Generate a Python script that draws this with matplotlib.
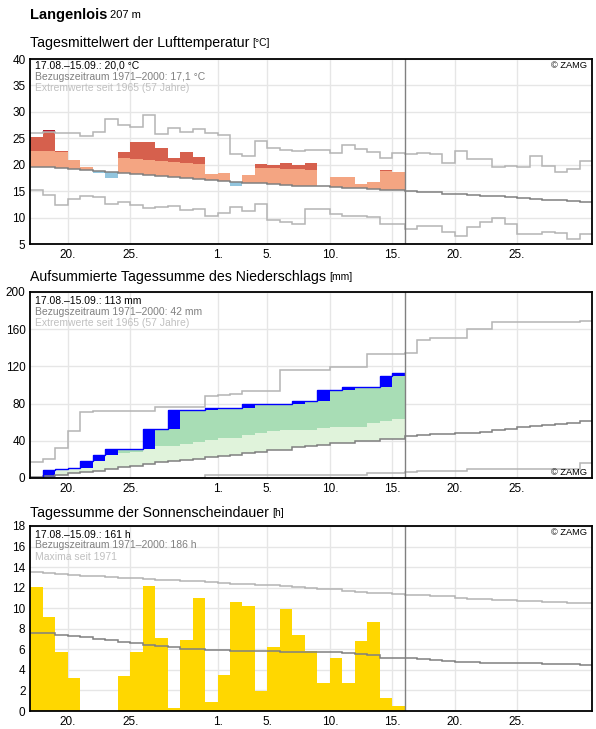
import matplotlib
matplotlib.use("Agg")
import matplotlib.pyplot as plt
import numpy as np

plt.rcParams['font.family'] = ['Liberation Sans', 'DejaVu Sans']

# x axis: one step per day, 17.08. .. 30.09.
n_days = 45
n_obs = 30   # 17.08.-15.09.
tick_pos = [3, 8, 15, 19, 24, 29, 34, 39]
tick_lbl = ['20.', '25.', '1.', '5.', '10.', '15.', '20.', '25.']

# Tagesmittel Lufttemperatur (degC)
t_obs = [25.3, 26.6, 22.65, 20.95, 19.6, 18.55, 17.5, 22.35, 24.25, 24.25,
         23.2, 21.35, 22.35, 21.5, 18.3, 18.55, 16.1, 18.1, 20.25, 20.0,
         20.4, 20.0, 20.4, 15.95, 17.7, 17.7, 16.4, 16.8, 19.1, 18.75]
t_schwelle = [22.65, 22.65, 22.5, 22.2, 22.0, 21.8, 21.7, 21.3, 21.15, 20.95,
              20.75, 20.6, 20.4, 20.2, 20.1, 20.0, 19.8, 19.6, 19.4, 19.4,
              19.25, 19.25, 19.05, 19.0, 18.9, 18.8, 18.8, 18.8, 18.85, 18.6]
t_norm = [19.6, 19.6, 19.4, 19.2, 19.0, 18.8, 18.7, 18.4, 18.3, 18.0,
          17.85, 17.7, 17.5, 17.4, 17.2, 17.0, 16.8, 16.6, 16.5, 16.4,
          16.2, 16.1, 15.95, 15.95, 15.8, 15.6, 15.6, 15.4, 15.2, 15.2,
          15.0, 14.8, 14.8, 14.55, 14.5, 14.4, 14.2, 14.15, 13.9, 13.75,
          13.6, 13.4, 13.3, 13.1, 12.9]
t_max = [25.95, 26.3, 25.95, 25.95, 25.4, 26.2, 28.7, 27.5, 27.15, 29.5,
         25.8, 26.9, 26.2, 26.7, 26.0, 25.6, 22.1, 21.65, 24.5, 23.2,
         22.8, 22.6, 22.8, 22.8, 22.2, 23.7, 23.0, 22.5, 21.3, 22.2,
         22.1, 22.3, 22.1, 20.3, 22.7, 21.1, 21.1, 19.6, 19.8, 19.6,
         21.6, 19.8, 18.7, 19.3, 20.8]
t_min = [15.2, 14.4, 12.5, 13.5, 14.2, 14.0, 12.7, 12.9, 12.5, 11.8,
         12.0, 12.15, 11.45, 11.65, 10.4, 11.0, 12.0, 11.2, 12.7, 9.55,
         9.3, 8.9, 11.6, 11.6, 10.8, 10.4, 10.4, 10.25, 8.9, 8.9,
         7.8, 8.4, 8.4, 7.3, 6.6, 8.25, 9.2, 9.9, 8.9, 6.9,
         6.9, 7.25, 7.05, 6.0, 6.9]

# Aufsummierter Niederschlag (mm)
rr_obs = [0.0, 8.7, 10.1, 10.8, 18.4, 24.9, 31.4, 31.4, 31.4, 53.0,
          53.0, 73.5, 73.5, 73.5, 75.8, 75.8, 75.8, 80.0, 80.0, 80.0,
          80.0, 82.6, 83.3, 94.2, 94.2, 97.5, 97.5, 97.5, 109.4, 113.0]
rr_schwelle = [10.0, 14.0, 17.0, 19.5, 21.5, 23.5, 25.2, 26.4, 28.2, 32.0,
               33.9, 34.6, 36.4, 38.5, 40.7, 43.3, 43.3, 46.5, 48.3, 50.9,
               51.2, 52.0, 52.0, 53.7, 54.4, 55.2, 55.2, 58.8, 61.0, 63.9]
rr_norm = [1.4, 2.5, 3.6, 5.1, 6.9, 7.6, 9.4, 11.6, 13.0, 15.2,
           17.0, 18.1, 19.2, 20.2, 22.4, 23.7, 24.5, 26.7, 28.2, 29.8,
           30.3, 33.1, 34.6, 35.7, 37.2, 37.9, 39.3, 40.1, 41.9, 41.9,
           45.1, 45.8, 46.9, 47.3, 48.0, 48.7, 49.8, 51.3, 53.1, 54.5,
           55.6, 57.0, 58.5, 59.6, 61.4]
rr_max = [17.0, 20.2, 32.1, 50.2, 70.8, 71.8, 72.2, 72.5, 72.5, 72.5,
          76.8, 76.8, 76.8, 76.8, 88.1, 89.0, 90.5, 93.6, 93.6, 93.6,
          115.9, 115.9, 115.9, 115.9, 119.1, 119.1, 119.1, 133.5, 133.5, 133.5,
          133.9, 148.0, 150.2, 150.2, 150.2, 159.9, 159.9, 168.2, 168.2, 168.2,
          168.2, 168.2, 168.2, 168.2, 169.3]
rr_min = [0.0, 0.0, 0.0, 0.0, 0.0, 0.0, 0.0, 0.0, 0.0, 0.0,
          0.4, 0.4, 0.4, 0.4, 3.4, 3.4, 3.4, 3.4, 3.4, 3.4,
          3.4, 3.4, 3.4, 3.4, 3.4, 3.4, 3.4, 5.8, 5.8, 5.8,
          6.9, 7.9, 7.9, 7.9, 7.9, 10.1, 10.1, 10.1, 10.1, 10.1,
          10.1, 10.1, 10.1, 10.1, 15.9]

# Sonnenscheindauer (h)
sd_obs = [12.1, 9.1, 5.76, 3.2, 0.0, 0.0, 0.0, 3.4, 5.76, 12.2,
          7.1, 0.3, 6.9, 11.0, 0.9, 3.5, 10.6, 10.25, 1.95, 6.25,
          9.96, 7.4, 5.86, 2.73, 5.18, 2.73, 6.84, 8.7, 1.27, 0.49]
sd_norm = [7.58, 7.58, 7.42, 7.32, 7.16, 7.0, 6.93, 6.7, 6.6, 6.41,
           6.35, 6.25, 6.02, 6.02, 5.92, 5.92, 5.83, 5.83, 5.83, 5.8,
           5.76, 5.76, 5.73, 5.7, 5.7, 5.63, 5.53, 5.44, 5.2, 5.14,
           5.14, 5.05, 4.98, 4.85, 4.75, 4.75, 4.65, 4.65, 4.65, 4.65,
           4.65, 4.56, 4.56, 4.56, 4.46]
sd_max = [13.48, 13.41, 13.3, 13.25, 13.18, 13.09, 12.99, 12.95, 12.9, 12.83,
          12.76, 12.76, 12.66, 12.66, 12.57, 12.47, 12.4, 12.34, 12.3, 12.27,
          12.17, 12.1, 12.0, 11.9, 11.85, 11.72, 11.62, 11.52, 11.46, 11.36,
          11.3, 11.3, 11.23, 11.17, 11.0, 10.94, 10.9, 10.84, 10.84, 10.74,
          10.74, 10.61, 10.61, 10.51, 10.51]

GRID = '#e6e6e6'
NORM = '#808080'
EXTR = '#b4b4b4'

edges = np.arange(n_days + 1)
x = np.arange(n_obs)


def setup_axes(ax, ylim, yticks):
    ax.set_xlim(0, n_days)
    ax.set_ylim(*ylim)
    ax.set_xticks(tick_pos)
    ax.set_xticklabels(tick_lbl)
    ax.set_yticks(yticks)
    ax.tick_params(length=0, labelsize=8.5, pad=3.5, colors='black')
    ax.grid(True, color=GRID, lw=1.0)
    ax.set_axisbelow(True)
    for s in ax.spines.values():
        s.set_linewidth(1.3)
        s.set_color('black')
        s.set_zorder(10)
    ax.axvline(n_obs, color=NORM, lw=1.0, zorder=6)


def step(ax, values, color, z, e=edges, lw=1.1):
    # step line only, no closing edges down to a baseline
    ax.stairs(values, e, baseline=None, color=color, lw=lw, zorder=z)


def info_text(ax, lines, top_px):
    cols = ['black', '#808080', '#c0c0c0']
    for i, (txt, c) in enumerate(zip(lines, cols)):
        ax.annotate(txt, xy=(0, 1), xycoords='axes fraction',
                    xytext=(3.2, -(top_px + 11 * i) * 0.72), textcoords='offset points',
                    ha='left', va='center', fontsize=7.5, color=c, zorder=11)


def zamg(ax, top=True):
    if top:
        ax.annotate('© ZAMG', xy=(1, 1), xycoords='axes fraction', xytext=(-3.8, -4.7),
                    textcoords='offset points', ha='right', va='center', fontsize=6.7, zorder=11)
    else:
        ax.annotate('© ZAMG', xy=(1, 0), xycoords='axes fraction', xytext=(-3.8, 3.8),
                    textcoords='offset points', ha='right', va='center', fontsize=6.7, zorder=11)


def title(fig, y_px, txt, unit, size=10.2):
    t = fig.text(30 / 596, 1 - y_px / 729, txt, fontsize=size, ha='left', va='center')
    fig.canvas.draw()
    bb = t.get_window_extent()
    fig.text((bb.x1 + 3) / 596, 1 - y_px / 729, unit, fontsize=size * 0.72,
             ha='left', va='center')


fig = plt.figure(figsize=(5.96, 7.29), dpi=100)
left = 30.3 / 596
width = (592 - 30.3) / 596
ax1 = fig.add_axes([left, 1 - 244.3 / 729, width, 185.3 / 729])
ax2 = fig.add_axes([left, 1 - 478 / 729, width, 186 / 729])
ax3 = fig.add_axes([left, 1 - 711 / 729, width, 185 / 729])

bar = dict(width=1, align='edge', linewidth=0, zorder=2)

# ---- Temperatur
setup_axes(ax1, (5, 40), np.arange(5, 41, 5))
obs = np.array(t_obs)
nrm = np.array(t_norm[:n_obs])
thr = np.array(t_schwelle)
tmx = np.array(t_max[:n_obs])
ax1.bar(x, np.clip(np.minimum(obs, thr) - nrm, 0, None), bottom=nrm, color='#f4a582', **bar)
ax1.bar(x, np.clip(np.minimum(obs, tmx) - thr, 0, None), bottom=thr, color='#d6604d', **bar)
ax1.bar(x, np.clip(obs - tmx, 0, None), bottom=tmx, color='#b2182b', **bar)
ax1.bar(x, np.clip(nrm - obs, 0, None), bottom=obs, color='#92c5de', **bar)
step(ax1, t_max, EXTR, 3)
step(ax1, t_min, EXTR, 3)
step(ax1, t_norm, NORM, 4)
info_text(ax1, ['17.08.–15.09.: 20,0 °C', 'Bezugszeitraum 1971–2000: 17,1 °C',
                'Extremwerte seit 1965 (57 Jahre)'], 7)
zamg(ax1)

# ---- Niederschlag
setup_axes(ax2, (0, 200), np.arange(0, 201, 40))
cum = np.array(rr_obs)
prev = np.concatenate([[0.0], cum[:-1]])
nrm = np.array(rr_norm[:n_obs])
thr = np.array(rr_schwelle)
ax2.bar(x, np.clip(np.minimum(prev, thr) - nrm, 0, None), bottom=nrm, color='#e0f3db', **bar)
ax2.bar(x, np.clip(prev - thr, 0, None), bottom=thr, color='#a8ddb5', **bar)
ax2.bar(x, cum - prev, bottom=prev, color='#0000ff', **bar)
step(ax2, rr_max, EXTR, 3)
step(ax2, rr_min, EXTR, 3)
step(ax2, rr_norm, NORM, 4)
step(ax2, cum, '#0000ff', 5, e=np.arange(n_obs + 1), lw=1.0)
info_text(ax2, ['17.08.–15.09.: 113 mm', 'Bezugszeitraum 1971–2000: 42 mm',
                'Extremwerte seit 1965 (57 Jahre)'], 9)
zamg(ax2, top=False)

# ---- Sonnenschein
setup_axes(ax3, (0, 18), np.arange(0, 19, 2))
ax3.bar(x, sd_obs, color='#ffd700', **bar)
step(ax3, sd_max, EXTR, 3)
step(ax3, sd_norm, NORM, 4)
info_text(ax3, ['17.08.–15.09.: 161 h', 'Bezugszeitraum 1971–2000: 186 h',
                'Maxima seit 1971'], 8.5)
zamg(ax3)

# ---- Titel
t = fig.text(30 / 596, 1 - 15 / 729, 'Langenlois', fontsize=10.5, fontweight='bold',
             ha='left', va='center')
fig.canvas.draw()
bb = t.get_window_extent()
fig.text((bb.x1 + 3) / 596, 1 - 15.5 / 729, '207 m', fontsize=8, ha='left', va='center')
title(fig, 43.3, 'Tagesmittelwert der Lufttemperatur', '[°C]')
title(fig, 277, 'Aufsummierte Tagessumme des Niederschlags', '[mm]')
title(fig, 512.7, 'Tagessumme der Sonnenscheindauer', '[h]')

fig.savefig('out.png', dpi=100)
